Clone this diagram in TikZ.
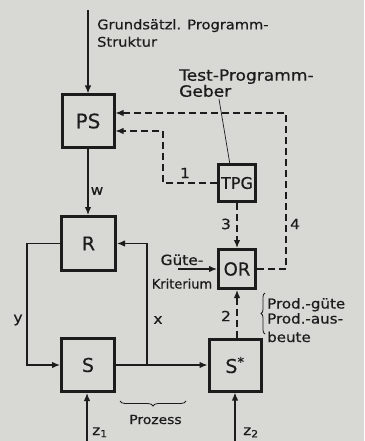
\documentclass[tikz,border=0pt]{standalone}
\usepackage{fontspec}
\setmainfont{DejaVu Sans}[FakeBold=0.4]
\newfontfamily\lettering{DejaVu Sans}[FakeStretch=1.1,FakeBold=0.6]
\usetikzlibrary{arrows.meta,decorations.pathreplacing}
\definecolor{paper}{RGB}{216,216,213}
\definecolor{ink}{RGB}{28,28,28}
\tikzset{
  block/.style={draw=ink, text=ink, line width=3pt, minimum width=52pt, minimum height=52pt, inner sep=0pt},
  flow/.style={ink, line width=1.3pt, -{Latex[length=8pt,width=6.5pt]}},
  test/.style={flow, dash pattern=on 7pt off 4pt},
  lbl/.style={text=ink, font=\lettering\fontsize{14}{16}\selectfont, inner sep=0pt},
  txt/.style={text=ink, align=left, inner sep=0pt}
}

\begin{document}
\begin{tikzpicture}[x=1pt,y=-1pt]
\fill[paper] (0,0) rectangle (364,441);
\useasboundingbox (0,0) rectangle (364,441);

% the blocks
\node[block, font=\fontsize{20}{20}\selectfont] (ps) at (88,121) {PS};
\node[block, font=\fontsize{19}{19}\selectfont, minimum width=54pt, minimum height=54pt] (r) at (88.5,243.5) {R};
\node[block, font=\fontsize{19}{19}\selectfont, minimum width=53pt, minimum height=53pt] (s) at (88,365) {S};
\node[block, font=\fontsize{19}{19}\selectfont] (sstar) at (235,365) {S\textsuperscript{*}};
\node[block, font=\fontsize{16}{16}\selectfont, minimum width=37pt, minimum height=37pt] (tpg) at (237,183) {TPG};
\node[block, font=\fontsize{18}{18}\selectfont, minimum width=37pt, minimum height=39pt] (or) at (237,269) {OR};

% texts (base = last line)
\node[txt, anchor=base west, font=\lettering\fontsize{13.3}{17.4}\selectfont] (struct) at (97,46.7) {Grundsätzl. Programm-\\Struktur};
\node[txt, anchor=base west, font=\lettering\fontsize{15.5}{13.4}\selectfont] (tpgtext) at (179,96.7) {Test-Programm-\\Geber};
\node[txt, anchor=base, font=\lettering\fontsize{14}{14}\selectfont] (gute) at (182,265) {Güte-};
\node[txt, anchor=base, font=\fontsize{13}{14}\selectfont] (krit) at (182,288.5) {Kriterium};
\node[txt, anchor=base west, font=\lettering\fontsize{13.7}{15}\selectfont] (prod) at (267,342) {Prod.-güte\\Prod.-aus-\\[3.5pt]beute};
\node[txt, anchor=base, font=\lettering\fontsize{12.6}{13}\selectfont] (proz) at (155.5,424) {Prozess};

% labels
\node[lbl] (lw) at (97,191) {w};
\node[lbl] (lx) at (158,320) {x};
\node[lbl] (ly) at (18,320) {y};
\node[lbl] (l1) at (185,173) {1};
\node[lbl] (l2) at (226,316) {2};
\node[lbl] (l3) at (226,224) {3};
\node[lbl] (l4) at (295,224) {4};
\node[lbl, anchor=base west] (lz1) at (92,435) {z\textsubscript{1}};
\node[lbl, anchor=base west] (lz2) at (243,435) {z\textsubscript{2}};

% free ends and corners
\coordinate (in) at (88,10);
\coordinate (z1) at (87,441);
\coordinate (z2) at (235,441);
\coordinate (c1) at (163,131);
\coordinate (c4) at (286,113);
\coordinate (yc) at (27,0);
\coordinate (xc) at (147,365);
\coordinate (gk) at (178,269);
\coordinate (ptr) at (219,99);

% draw the arrows
\draw[flow] (in) -- (ps.north);
\draw[flow] (ps.south) -- (r.north -| ps.south);
\draw[flow] (r.west) -- (r.west -| yc) |- (s.west);
\draw[flow] (s.east) -- (sstar.west);
\draw[flow] (xc) |- (r.east);
\draw[flow] (z1) -- (z1 |- s.south);
\draw[flow] (z2) -- (sstar.south);
\draw[flow] (gk) -- (or.west);

% dashed test paths
\draw[test] (tpg.west) -| (c1) -- (c1 -| ps.east);
\draw[test] (or.east) -| (c4) -- (c4 -| ps.east);
\draw[test] (tpg.south) -- (or.north);
\draw[test] (sstar.north -| or.south) -- (or.south);

% pointer and braces
\draw[ink, line width=0.7pt] (ptr) -- (tpg.110);
\draw[ink, line width=0.8pt, decorate, decoration={brace, amplitude=4pt}] (265,334) -- (265,293);
\draw[ink, line width=0.8pt, decorate, decoration={brace, amplitude=5pt}] (186,401) -- (120,401);

\end{tikzpicture}
\end{document}
